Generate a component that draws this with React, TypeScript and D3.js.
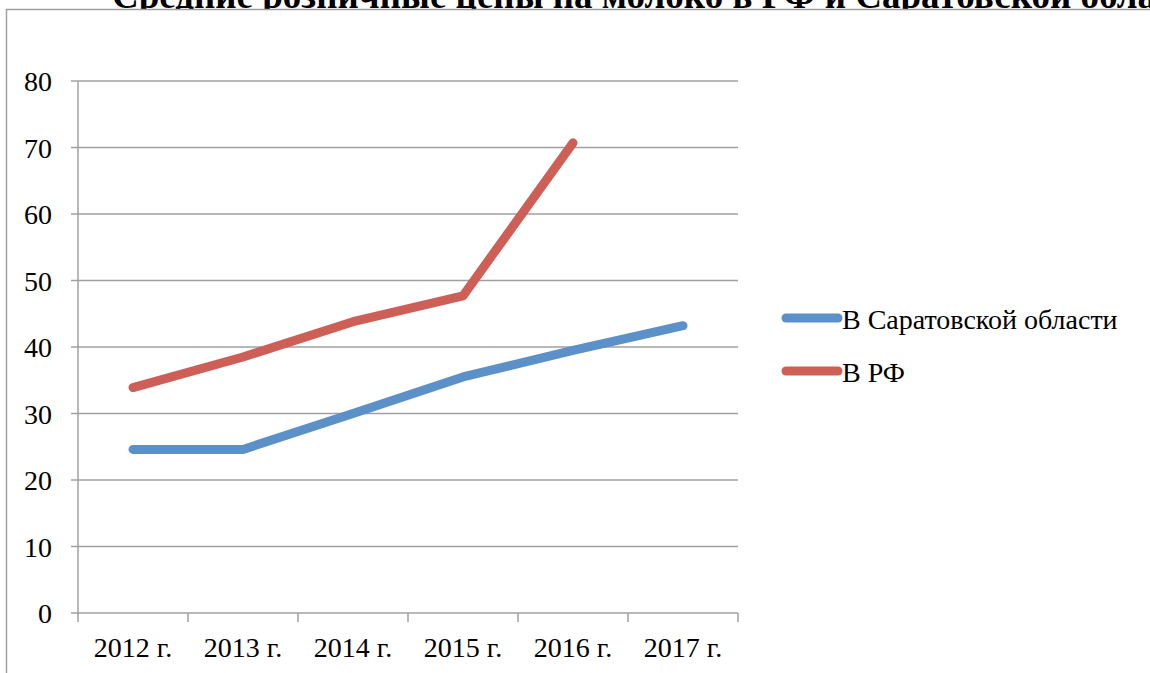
import React from "react";
import * as d3 from "d3";

const categories = ["2012 г.", "2013 г.", "2014 г.", "2015 г.", "2016 г.", "2017 г."];
const saratov = [24.6, 24.6, 30.0, 35.5, 39.5, 43.2];
const rf: (number | null)[] = [33.9, 38.5, 43.8, 47.7, 70.7, null];
const yTicks = [0, 10, 20, 30, 40, 50, 60, 70, 80];
const seriesNames = ["В Саратовской области", "В РФ"];
const title = "Средние розничные цены на молоко в РФ и Саратовской области";

const W = 1150;
const H = 673;
const font = "'Liberation Serif', 'Times New Roman', serif";

export default function App() {
  const x = d3.scaleBand<string>().domain(categories).range([78, 738]).paddingInner(0).paddingOuter(0);
  const y = d3.scaleLinear().domain([0, 80]).range([613, 81]);
  const cx = (c: string) => (x(c) ?? 0) + x.bandwidth() / 2;

  const line = d3
    .line<number | null>()
    .defined((d) => d !== null)
    .x((_, i) => cx(categories[i]))
    .y((d) => y(d as number));

  const colors = ["#5b90c8", "#cd5f57"];
  const data = [saratov, rf];
  const grid = "#a0a0a0";

  return (
    <svg width={W} height={H} style={{ position: "absolute", left: 0, top: 0, display: "block" }}>
      <rect x={0} y={0} width={W} height={H} fill="#fff" />
      <text x={112} y={8} fontFamily={font} fontWeight="bold" fontSize={37} fill="#000">
        {title}
      </text>
      <rect x={6.5} y={9.5} width={W + 20} height={H + 20} fill="#fff" stroke={grid} strokeWidth={1.5} />

      {yTicks.map((t) => (
        <g key={t}>
          <line x1={71} x2={738} y1={y(t)} y2={y(t)} stroke={grid} strokeWidth={1.5} />
          <text x={52} y={y(t) + 10} textAnchor="end" fontFamily={font} fontSize={28} fill="#000">
            {t}
          </text>
        </g>
      ))}
      <line x1={78} x2={78} y1={y(80)} y2={y(0)} stroke={grid} strokeWidth={1.5} />
      {categories.map((c) => (
        <line key={"t" + c} x1={x(c)} x2={x(c)} y1={y(0)} y2={y(0) + 9} stroke={grid} strokeWidth={1.5} />
      ))}
      <line x1={738} x2={738} y1={y(0)} y2={y(0) + 9} stroke={grid} strokeWidth={1.5} />
      {categories.map((c) => (
        <text key={"l" + c} x={cx(c)} y={657} textAnchor="middle" fontFamily={font} fontSize={28} fill="#000">
          {c}
        </text>
      ))}

      {data.map((s, i) => (
        <path
          key={i}
          d={line(s) ?? ""}
          fill="none"
          stroke={colors[i]}
          strokeWidth={9}
          strokeLinecap="round"
          strokeLinejoin="round"
        />
      ))}

      {seriesNames.map((n, i) => (
        <g key={n}>
          <line x1={786} x2={838} y1={318 + i * 53} y2={318 + i * 53} stroke={colors[i]} strokeWidth={9} strokeLinecap="round" />
          <text x={842} y={329 + i * 53} fontFamily={font} fontSize={28} fill="#000">
            {n}
          </text>
        </g>
      ))}
    </svg>
  );
}
